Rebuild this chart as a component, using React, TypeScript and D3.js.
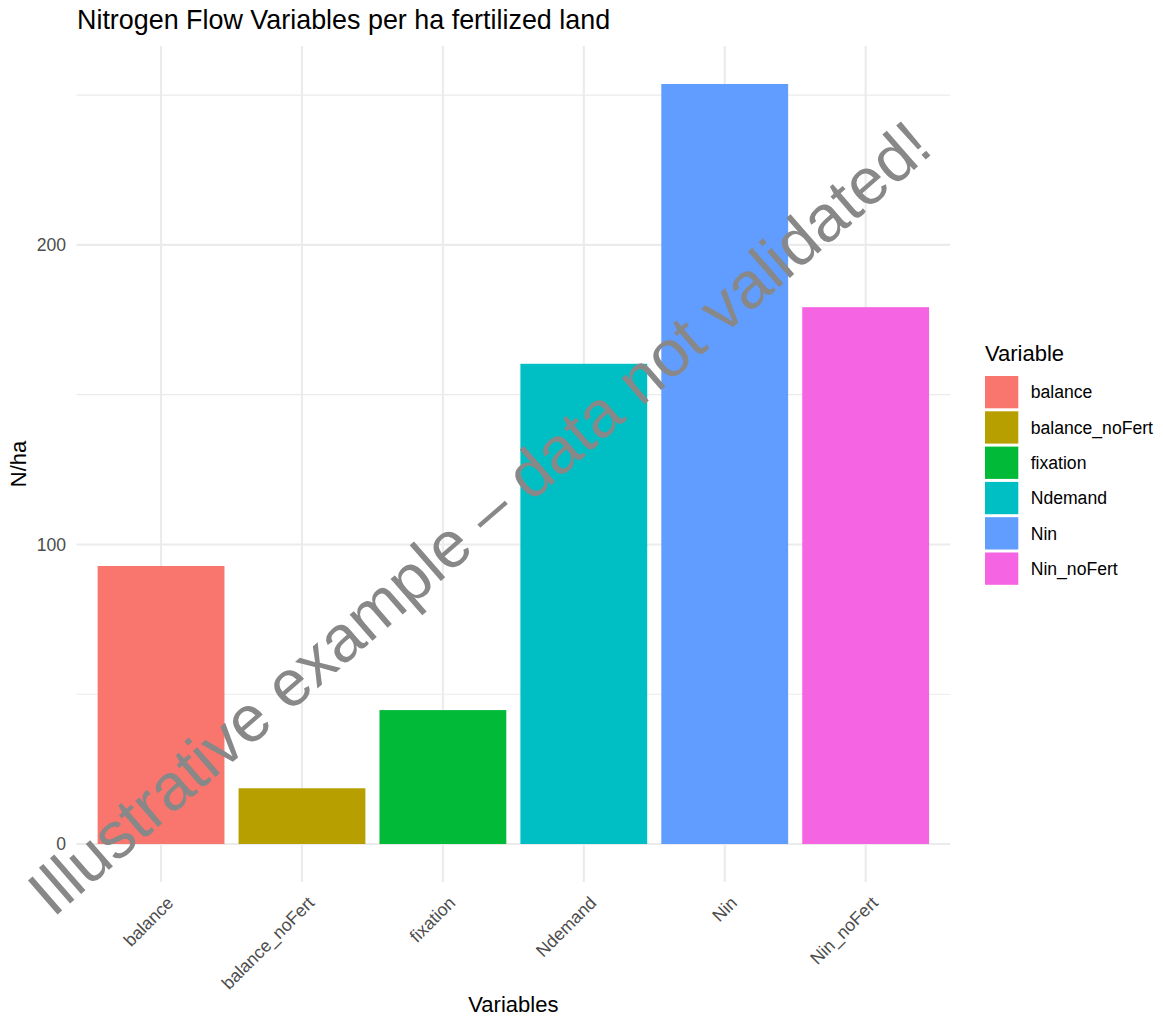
import React, { useEffect } from "react";
import * as d3 from "d3";

const categories = ["balance", "balance_noFert", "fixation", "Ndemand", "Nin", "Nin_noFert"];
const values = [92.8, 18.6, 44.7, 160.3, 253.7, 179.2];
const colors = ["#F8766D", "#B79F00", "#00BA38", "#00BFC4", "#619CFF", "#F564E3"];
const majorTicks = [0, 100, 200];
const minorTicks = [50, 150, 250];

const W = 1163;
const H = 1019;
const panel = { left: 76.5, right: 950.2, top: 46, bottom: 882 };
const FONT = "'Liberation Sans', Arial, Helvetica, sans-serif";

export default function App() {
  useEffect(() => {
    document.body.style.margin = "0";
  }, []);

  const x = d3
    .scaleBand<string>()
    .domain(categories)
    .range([panel.left, panel.right])
    .paddingInner(0.1)
    .paddingOuter(0.15);

  const maxV = d3.max(values) as number;
  const span = maxV - 0;
  const y = d3
    .scaleLinear()
    .domain([0 - span * 0.05, maxV + span * 0.05])
    .range([panel.bottom, panel.top]);

  const center = (c: string) => (x(c) as number) + x.bandwidth() / 2;

  const legendX = 985;
  const legendKeyTop = 376;
  const legendStep = 35.3;

  return (
    <svg width={W} height={H} style={{ display: "block", background: "#fff" }} fontFamily={FONT}>
      <rect x={0} y={0} width={W} height={H} fill="#fff" />
      {/* title */}
      <text x={77} y={29} fontSize={26.9} fill="#000">
        Nitrogen Flow Variables per ha fertilized land
      </text>

      {/* minor grid */}
      {minorTicks.map((t) => (
        <line key={"mi" + t} x1={panel.left} x2={panel.right} y1={y(t)} y2={y(t)} stroke="#EBEBEB" strokeWidth={1.1} />
      ))}
      {/* major grid */}
      {majorTicks.map((t) => (
        <line key={"ma" + t} x1={panel.left} x2={panel.right} y1={y(t)} y2={y(t)} stroke="#EBEBEB" strokeWidth={2.1} />
      ))}
      {categories.map((c) => (
        <line key={"v" + c} x1={center(c)} x2={center(c)} y1={panel.top} y2={panel.bottom} stroke="#EBEBEB" strokeWidth={2.1} />
      ))}

      {/* bars */}
      {categories.map((c, i) => (
        <rect
          key={"b" + c}
          x={x(c)}
          width={x.bandwidth()}
          y={y(values[i])}
          height={y(0) - y(values[i])}
          fill={colors[i]}
        />
      ))}

      {/* y tick labels */}
      {majorTicks.map((t) => (
        <text key={"yl" + t} x={66} y={y(t)} dy="0.35em" textAnchor="end" fontSize={17.6} fill="#4D4D4D">
          {t}
        </text>
      ))}

      {/* x tick labels */}
      {categories.map((c) => (
        <text
          key={"xl" + c}
          transform={`translate(${center(c) + 13.5},${904}) rotate(-45)`}
          textAnchor="end"
          fontSize={17.6}
          fill="#4D4D4D"
        >
          {c}
        </text>
      ))}

      {/* axis titles */}
      <text x={(panel.left + panel.right) / 2} y={1012} textAnchor="middle" fontSize={22} fill="#000">
        Variables
      </text>
      <text
        transform={`translate(26,${(panel.top + panel.bottom) / 2}) rotate(-90)`}
        textAnchor="middle"
        fontSize={22}
        fill="#000"
      >
        N/ha
      </text>

      {/* legend */}
      <text x={legendX} y={361} fontSize={22} fill="#000">
        Variable
      </text>
      {categories.map((c, i) => (
        <g key={"lg" + c}>
          <rect x={legendX} y={legendKeyTop + i * legendStep} width={33.3} height={32.3} fill={colors[i]} />
          <text
            x={1030.7}
            y={legendKeyTop + i * legendStep + 16.2}
            dy="0.35em"
            fontSize={17.6}
            fill="#000"
          >
            {c}
          </text>
        </g>
      ))}

      {/* watermark */}
      <text
        transform={`translate(494,535) rotate(-41)`}
        textAnchor="middle"
        fontSize={65.5}
        fill="#888888"
      >
        Illustrative example – data not validated!
      </text>
    </svg>
  );
}
